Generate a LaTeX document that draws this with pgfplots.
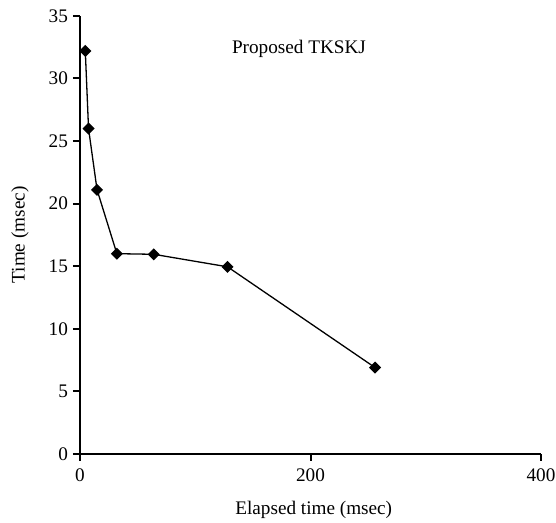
\documentclass[border=0pt]{standalone}
\usepackage{pgfplots}
\pgfplotsset{compat=1.18}
\usepackage{fontspec}
\setmainfont{Liberation Serif}
\begin{document}
\begin{tikzpicture}
\path (-40pt,-34.55pt) rectangle (238pt,226.95pt);
\begin{axis}[
  scale only axis,
  width=230.5pt, height=219pt,
  xmin=0, xmax=400, ymin=0, ymax=35,
  axis x line*=bottom, axis y line*=left,
  axis line style={line width=1pt},
  xtick={0,200,400}, ytick={0,5,...,35},
  tick align=outside,
  major tick length=3.5pt,
  tick style={line width=1pt, black},
  /pgf/number format/assume math mode=true,
  font=\fontsize{9.6}{11.5}\selectfont,
  ticklabel style={font=\fontsize{9.6}{11.5}\selectfont},
  xticklabel style={inner xsep=0pt, yshift=-0.5pt},
  yticklabel style={xshift=1pt},
  xlabel={Elapsed time (msec)},
  ylabel={Time (msec)},
  xlabel style={at={(axis description cs:0.507,-0.139)}, anchor=base, inner sep=0pt},
  ylabel style={at={(axis description cs:-0.130,0.5)}, anchor=center, inner sep=0pt},
  clip=false,
]
\addplot[black, line width=0.65pt, mark=square*, mark size=1.8pt, mark options={rotate=45, solid}]
coordinates {
(4.6,32.2) (7.4,26.0) (14.8,21.1) (32,16.0) (64,15.95) (128,14.95) (256,6.9)
};
\node[anchor=base, font=\fontsize{9.6}{11.5}\selectfont] at (axis cs:190,32.0) {Proposed TKSKJ};
\end{axis}
\end{tikzpicture}
\end{document}
